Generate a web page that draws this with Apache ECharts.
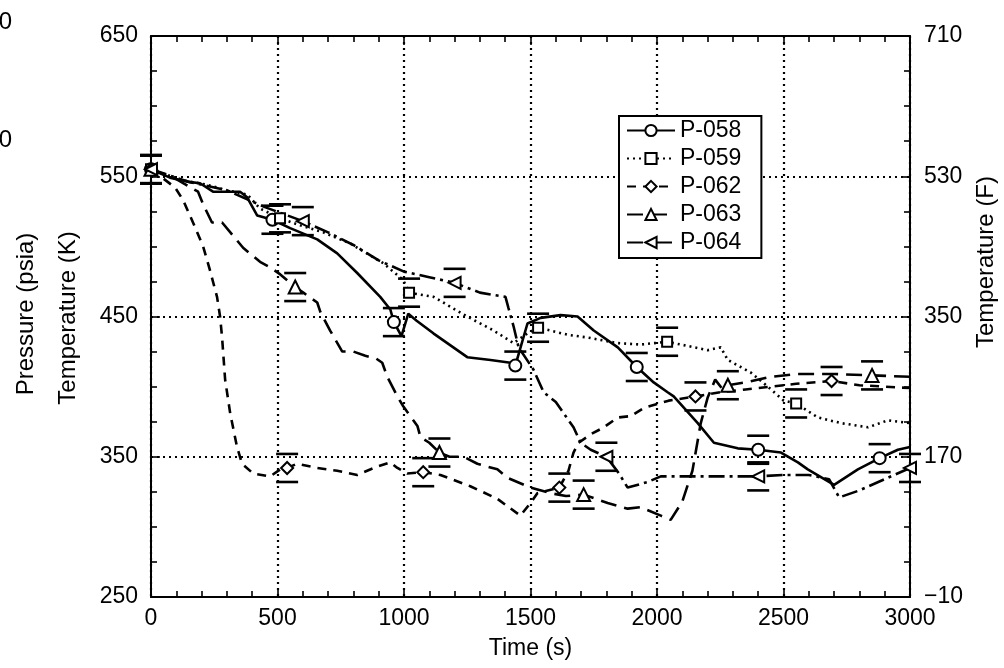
<!DOCTYPE html>
<html><head><meta charset="utf-8">
<script src="https://cdn.jsdelivr.net/npm/echarts@6/dist/echarts.min.js"></script>
<style>html,body{margin:0;padding:0;background:#fff}#c{width:1004px;height:668px}</style>
</head><body><div id="c"></div>
<script>
// ---------- data ----------
const seriesNames = ['P-058', 'P-059', 'P-062', 'P-063', 'P-064'];
const rightTickLabels = ['\u221210', '170', '350', '530', '710']; // Temperature (F) at 250..650 K
const errK = 10; // half-height of the uncertainty bars (K)

const p058Curve = [[75,549],[150,546],[194,545],[245,539],[352,539],[380,535],[420,522],[550,513],[657,505],[736,495],[815,481],[906,464],[946,455],[990,436],[1017,452],[1050,447],[1116,438],[1250,421],[1342,419],[1421,417],[1488,445],[1540,449],[1619,451],[1686,450],[1750,440],[1845,428],[1987,403],[2042,396],[2066,393],[2161,374],[2225,360],[2319,356],[2490,353],[2557,346],[2596,341],[2700,330],[2794,341],[2952,355],[3000,357]];
const p058Marks = [[0,555],[480,519],[960,446],[1440,415],[1920,414],[2400,355],[2880,349]];

const p059Curve = [[127,547],[221,544],[300,540],[380,537],[431,527],[590,515],[681,510],[788,502],[918,488],[997,476],[1117,464],[1183,457],[1250,450],[1354,440],[1433,431],[1488,438],[1579,440],[1646,437],[1726,435],[1845,431],[1935,430],[2121,429],[2200,426],[2252,428],[2280,419],[2371,410],[2438,400],[2501,390],[2636,378],[2727,374],[2834,371],[2913,376],[3000,374]];
const p059Marks = [[0,555],[510,520],[1020,467],[1530,442],[2040,432],[2550,388]];

const p062Curve = [[95,542],[127,533],[166,517],[206,500],[233,483],[261,464],[273,450],[281,435],[293,405],[313,381],[340,357],[360,345],[404,338],[471,336],[511,341],[578,345],[657,342],[736,340],[815,337],[894,343],[946,346],[974,342],[1013,338],[1144,337],[1262,329],[1369,320],[1460,308],[1500,317],[1527,324],[1650,340],[1670,353],[1690,360],[1738,366],[1790,371],[1845,378],[1896,379],[1950,385],[2046,390],[2250,396],[2350,398],[2450,400],[2550,402],[2800,401],[3000,399]];
const p062Marks = [[0,555],[538,342],[1076,339],[1614,328],[2152,393],[2690,404]];

const p063Curve = [[100,548],[186,539],[206,530],[241,517],[281,517],[332,506],[364,499],[431,489],[471,485],[511,480],[602,467],[657,460],[670,453],[708,440],[756,425],[800,425],[847,422],[890,420],[914,417],[934,407],[974,393],[997,386],[1053,372],[1065,364],[1100,360],[1180,350],[1235,350],[1290,345],[1369,341],[1409,335],[1500,328],[1580,324],[1640,322],[1805,317],[1884,313],[1935,314],[2015,308],[2054,305],[2100,318],[2140,340],[2173,374],[2200,392],[2230,405],[2260,398],[2350,403],[2450,407],[2550,409],[2700,409],[3000,407]];
const p063Marks = [[0,555],[570,471],[1140,353],[1710,323],[2280,401],[2850,408]];

const p064Curve = [[150,546],[300,540],[450,528],[700,510],[800,501],[900,490],[1000,482],[1100,478],[1300,467],[1401,464],[1413,456],[1433,443],[1453,428],[1512,412],[1552,396],[1600,389],[1670,371],[1698,360],[1738,355],[1817,346],[1850,338],[1884,328],[1963,332],[2015,336],[2100,336],[2200,336],[2300,336],[2500,337],[2600,337],[2680,334],[2720,321],[2800,326],[2900,334]];
const p064Marks = [[0,555],[600,518],[1200,474],[1800,350],[2400,336],[3000,342]];

// ---------- styling ----------
const FONT = 'Liberation Sans, Arial, Helvetica, sans-serif';
const styles = [
  {curve:p058Curve, marks:p058Marks, symbol:'emptyCircle', size:12, rotate:0, dash:'solid'},
  {curve:p059Curve, marks:p059Marks, symbol:'emptyRect', size:10, rotate:0, dash:[2,4]},
  {curve:p062Curve, marks:p062Marks, symbol:'emptyDiamond', size:12, rotate:0, dash:[9,7]},
  {curve:p063Curve, marks:p063Marks, symbol:'emptyTriangle', size:13, rotate:0, dash:[16,8]},
  {curve:p064Curve, marks:p064Marks, symbol:'emptyTriangle', size:12, rotate:90, dash:[16,5,3,5]}
];

function buildData(curve, marks) {
  const d = curve.map(p => ({value: p, symbol: 'none'}));
  marks.forEach(p => d.push({value: p}));
  d.sort((a, b) => a.value[0] - b.value[0]);
  return d;
}

const series = [];
styles.forEach((s, i) => {
  series.push({
    name: seriesNames[i], type: 'line', xAxisIndex: 0, yAxisIndex: 0,
    data: buildData(s.curve, s.marks),
    symbol: s.symbol, symbolSize: s.size, symbolRotate: s.rotate,
    showSymbol: true, showAllSymbol: true, smooth: false, z: 3,
    lineStyle: {color: '#000', width: 2.6, type: s.dash},
    itemStyle: {color: '#000', borderColor: '#000', borderWidth: 1.8},
    emphasis: {disabled: true}, animation: false
  });
  series.push({
    name: seriesNames[i] + ' err', type: 'custom', xAxisIndex: 0, yAxisIndex: 0,
    data: s.marks, z: 4, silent: true, animation: false,
    renderItem: function (params, api) {
      const t = api.value(0), v = api.value(1);
      const hi = api.coord([t, v + errK]);
      const lo = api.coord([t, v - errK]);
      const hw = 11;
      const st = {stroke: '#000', lineWidth: 2.6};
      return {type: 'group', children: [
        {type: 'line', shape: {x1: hi[0] - hw, y1: hi[1], x2: hi[0] + hw, y2: hi[1]}, style: st},
        {type: 'line', shape: {x1: lo[0] - hw, y1: lo[1], x2: lo[0] + hw, y2: lo[1]}, style: st}
      ]};
    }
  });
});

function mkAxis(extra, minorSplit) {
  return Object.assign({
    axisLine: {show: true, onZero: false, lineStyle: {color: '#000', width: 2}},
    axisTick: {show: true, inside: true, length: 9, lineStyle: {color: '#000', width: 1.6}},
    minorTick: {show: true, splitNumber: minorSplit, length: 6, lineStyle: {color: '#000', width: 1.6}}
  }, extra);
}
const labelStyle = {color: '#000', fontSize: 23, fontFamily: FONT};
const gridDots = {show: true, lineStyle: {color: '#000', width: 2.2, type: [2, 4]}};

const chart = echarts.init(document.getElementById('c'), null, {renderer: 'canvas'});
chart.setOption({
  backgroundColor: '#fff',
  animation: false,
  grid: {left: 151, right: 94, top: 36, bottom: 71, containLabel: false},
  xAxis: [
    mkAxis({
      type: 'value', position: 'bottom', min: 0, max: 3000, interval: 500,
      axisLabel: Object.assign({margin: 10, formatter: v => String(v)}, labelStyle),
      splitLine: gridDots,
      name: 'Time (s)', nameLocation: 'middle', nameGap: 40,
      nameTextStyle: {color: '#000', fontSize: 23, fontFamily: FONT}
    }, 5),
    mkAxis({
      type: 'value', position: 'top', min: 0, max: 3000, interval: 500,
      axisLabel: {show: false}, splitLine: {show: false}
    }, 5)
  ],
  yAxis: [
    mkAxis({
      type: 'value', position: 'left', min: 250, max: 650, interval: 100,
      axisLabel: Object.assign({margin: 13, formatter: v => String(v)}, labelStyle),
      splitLine: gridDots
    }, 4),
    mkAxis({
      type: 'value', position: 'right', min: 250, max: 650, interval: 100,
      axisLabel: Object.assign({margin: 14,
        formatter: v => rightTickLabels[Math.round((v - 250) / 100)]}, labelStyle),
      splitLine: {show: false}
    }, 4)
  ],
  legend: {
    data: seriesNames, orient: 'vertical', left: 619, top: 116,
    backgroundColor: '#fff', borderColor: '#000', borderWidth: 2,
    padding: [3, 20, 4, 7], itemGap: 5, itemWidth: 48, itemHeight: 14,
    selectedMode: false,
    textStyle: {color: '#000', fontSize: 23, fontFamily: FONT, lineHeight: 22}
  },
  graphic: [
    {type: 'text', x: 26, y: 314, rotation: Math.PI / 2,
     style: {text: 'Pressure (psia)', font: '24px ' + FONT, fill: '#000', textAlign: 'center', textVerticalAlign: 'middle'}},
    {type: 'text', x: 68, y: 318, rotation: Math.PI / 2,
     style: {text: 'Temperature (K)', font: '24px ' + FONT, fill: '#000', textAlign: 'center', textVerticalAlign: 'middle'}},
    {type: 'text', x: 986, y: 262, rotation: Math.PI / 2,
     style: {text: 'Temperature (F)', font: '24px ' + FONT, fill: '#000', textAlign: 'center', textVerticalAlign: 'middle'}},
    {type: 'text', x: 12, y: 22,
     style: {text: '0', font: '24px ' + FONT, fill: '#000', textAlign: 'right', textVerticalAlign: 'middle'}},
    {type: 'text', x: 12, y: 140,
     style: {text: '0', font: '24px ' + FONT, fill: '#000', textAlign: 'right', textVerticalAlign: 'middle'}}
  ],
  series: series
});
</script>
</body></html>
